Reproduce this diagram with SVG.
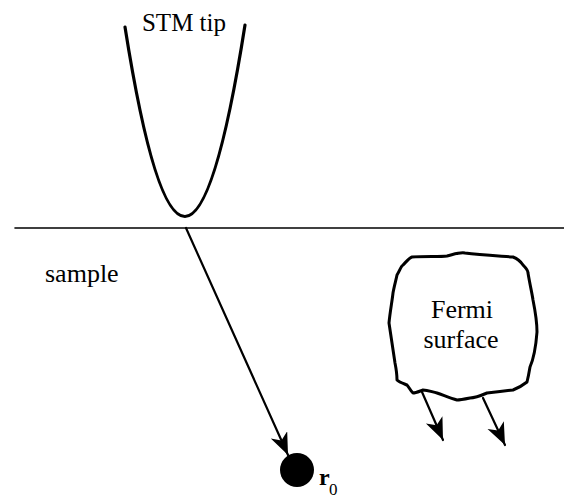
<svg xmlns="http://www.w3.org/2000/svg" width="564" height="498" viewBox="0 0 564 498">
<defs>
<style>
.t{font-family:"Liberation Serif","Times New Roman",serif;fill:#000}
.ln{fill:none;stroke:#000;stroke-linecap:round;stroke-linejoin:round}
</style>
<marker id="ah" markerUnits="userSpaceOnUse" markerWidth="24" markerHeight="20" refX="22" refY="9" orient="auto">
<path d="M0,0 L22,9 L0,18 L6,9 z" fill="#000"/>
</marker>
</defs>
<rect width="564" height="498" fill="#fff"/>
<g id="surface-line">
<line class="ln" x1="15" y1="228" x2="564" y2="228" stroke-width="1.6"/>
</g>
<g id="stm-tip">
<path class="ln" d="M125,27 Q185,407 245,25" stroke-width="3.2"/>
<text class="t" x="184" y="31" font-size="25" text-anchor="middle">STM tip</text>
</g>
<g id="sample">
<text class="t" x="45" y="282" font-size="26">sample</text>
</g>
<g id="r0">
<circle cx="297" cy="470" r="17" fill="#000"/>
<text class="t" x="319" y="485" font-size="24" font-weight="bold">r</text>
<text class="t" x="329" y="495" font-size="17">0</text>
</g>
<g id="fermi-surface">
<path class="ln" stroke-width="3" fill="#fff" d="M397,275 C400,270 401,266 403,265 C406,262 409,258 412,257 C425,256 440,257 447,256 C455,254 460,252 465,253 C480,255 500,256 513,257 C518,259 521,262 523,265 C526,268 528,271 528,273 C530,285 532,293 533,300 C535,310 537,320 537,332 C536,345 534,358 530,367 C529,373 528,378 527,382 C522,386 518,388 513,390 C505,391 495,392 487,393 C480,396 475,398 470,398 C465,399 460,400 457,400 C450,398 443,395 437,393 C432,392 428,390 423,390 C420,391 416,393 413,393 C410,390 409,387 407,385 C402,383 399,382 397,380 C397,374 396,368 395,363 C393,350 391,336 389,323 C390,312 392,302 393,293 C394,287 396,280 397,275 Z"/>
<text class="t" x="462" y="318" font-size="26" text-anchor="middle">Fermi</text>
<text class="t" x="461" y="348" font-size="26" text-anchor="middle">surface</text>
</g>
<g id="connectors">
<line class="ln" x1="186" y1="228" x2="288" y2="455" stroke-width="2.2" marker-end="url(#ah)"/>
<line class="ln" x1="422" y1="392" x2="443" y2="440" stroke-width="2.2" marker-end="url(#ah)"/>
<line class="ln" x1="483" y1="398" x2="505" y2="445" stroke-width="2.2" marker-end="url(#ah)"/>
</g>
</svg>
